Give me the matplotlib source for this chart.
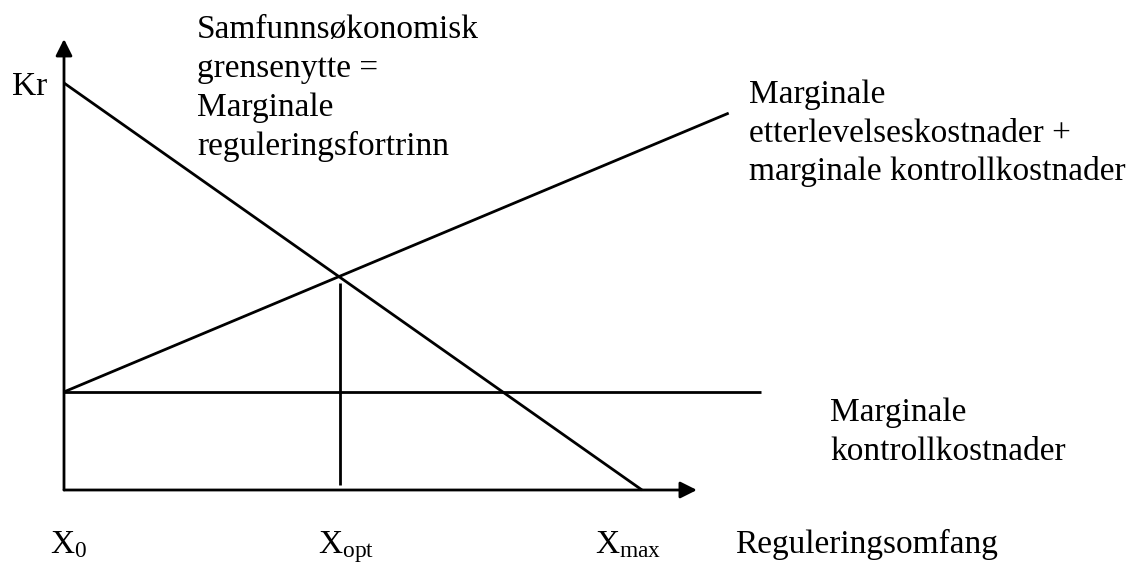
import matplotlib
matplotlib.use("Agg")
import matplotlib.pyplot as plt

# ---- data (conceptual units) ----
x_benefit = [0, 10]
benefit = [10, 0]                 # Samfunnsøkonomisk grensenytte
x_total = [0, 11.5]
total_cost = [2.41, 9.26]         # etterlevelses + kontrollkostnader
x_control = [0, 12.06]
control_cost = [2.41, 2.41]       # marginale kontrollkostnader
x_opt = 4.78
opt_span = [0.12, 5.09]
x_axis_end = 10.95
y_axis_end = 11.08

tick_labels = [r"X$_{\mathrm{0}}$", r"X$_{\mathrm{opt}}$", r"X$_{\mathrm{max}}$"]
x_label = "Reguleringsomfang"
y_label = "Kr"
benefit_label = ["Samfunnsøkonomisk", "grensenytte =", "Marginale", "reguleringsfortrinn"]
total_label = ["Marginale", "etterlevelseskostnader +", "marginale kontrollkostnader"]
control_label = ["Marginale", "kontrollkostnader"]

plt.rcParams["font.family"] = ["Liberation Serif", "DejaVu Serif"]
plt.rcParams["mathtext.fontset"] = "custom"
plt.rcParams["mathtext.rm"] = "Liberation Serif"
plt.rcParams["mathtext.it"] = "Liberation Serif:italic"

W, H = 1131, 563
fig = plt.figure(figsize=(W / 100, H / 100), dpi=100)
ax = fig.add_axes([0, 0, 1, 1])
ox, oy, kx, ky = 64, 490, 57.8, 40.7
ax.set_xlim(-ox / kx, (W - ox) / kx)
ax.set_ylim((oy - H) / ky, oy / ky)
ax.axis("off")


def px(x, y):
    return (x - ox) / kx, (oy - y) / ky


lw = 2.0
arrow = dict(arrowstyle="-|>,head_length=1.0,head_width=0.5", lw=lw, color="black",
             shrinkA=0, shrinkB=0, mutation_scale=10)
ax.annotate("", xy=(0, y_axis_end), xytext=(0, 0), arrowprops=arrow)
ax.annotate("", xy=(x_axis_end, 0), xytext=(0, 0), arrowprops=arrow)

ax.plot(x_benefit, benefit, color="black", lw=lw, solid_capstyle="butt")
ax.plot(x_total, total_cost, color="black", lw=lw, solid_capstyle="butt")
ax.plot(x_control, control_cost, color="black", lw=lw, solid_capstyle="butt")
ax.plot([x_opt, x_opt], opt_span, color="black", lw=lw, solid_capstyle="butt")

fs = 24
ax.text(*px(12, 95), y_label, fontsize=fs, va="baseline", ha="left")

tick_px = [50, 318, 595]
for t, xp in zip(tick_labels, tick_px):
    ax.text(*px(xp, 553), t, fontsize=fs, va="baseline", ha="left")
ax.text(*px(735, 553), x_label, fontsize=fs, va="baseline", ha="left")

for i, s in enumerate(benefit_label):
    ax.text(*px(197, 38 + 39 * i), s, fontsize=fs, va="baseline", ha="left")
for i, s in enumerate(total_label):
    ax.text(*px(749, 103 + 38.5 * i), s, fontsize=fs, va="baseline", ha="left")
for i, s in enumerate(control_label):
    ax.text(*px(830, 421 + 38.5 * i), s, fontsize=fs, va="baseline", ha="left")

fig.savefig("out.png", dpi=100)
